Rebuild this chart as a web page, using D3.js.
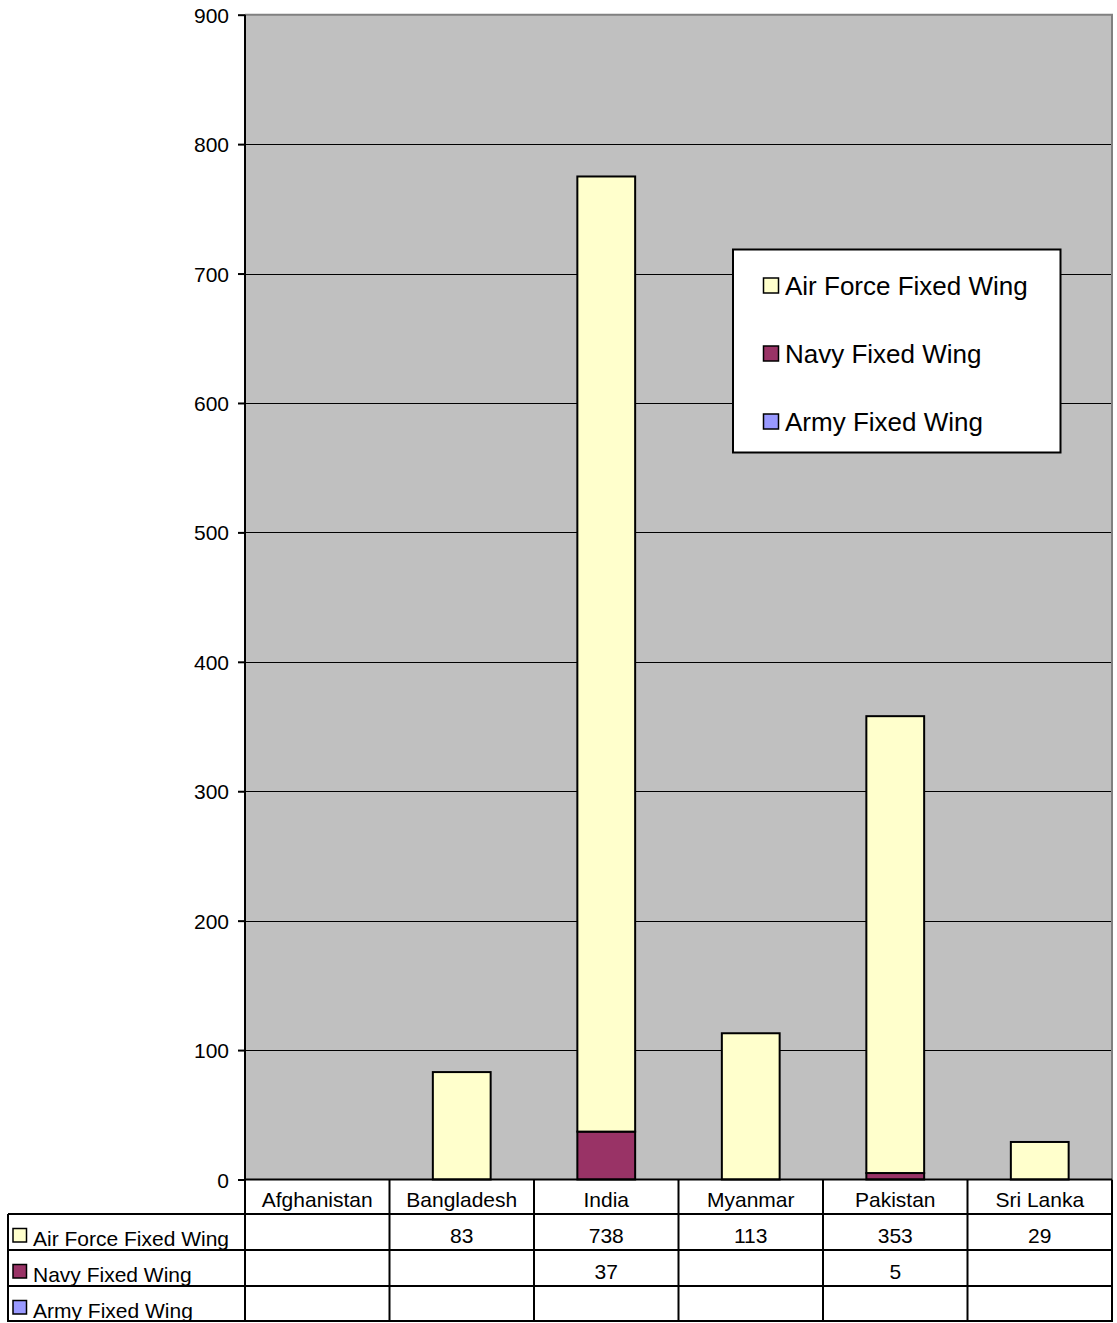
<!DOCTYPE html>
<html><head><meta charset="utf-8">
<script src="https://cdn.jsdelivr.net/npm/d3@7/dist/d3.min.js"></script>
<style>html,body{margin:0;padding:0;background:#fff;}svg{display:block;}</style>
</head><body>
<svg id="chart" width="1117" height="1323"></svg>
<script>
const categories = ["Afghanistan","Bangladesh","India","Myanmar","Pakistan","Sri Lanka"];
const seriesNames = ["Air Force Fixed Wing","Navy Fixed Wing","Army Fixed Wing"];
const airForce = [null, 83, 738, 113, 353, 29];
const navy = [null, null, 37, null, 5, null];
const army = [null, null, null, null, null, null];
const seriesColors = ["#FFFFCC","#993366","#9999FF"];
const yTicks = [0,100,200,300,400,500,600,700,800,900];

const svg = d3.select("#chart");
const font = "'Liberation Sans', Arial, sans-serif";
const L = 245, R = 1112, T = 14.7, B = 1179.5;
const x = d3.scaleBand().domain(categories).range([L, R]).paddingInner(0.6).paddingOuter(0.3);
const xCol = d3.scaleBand().domain(categories).range([L, R]).padding(0);
const y = d3.scaleLinear().domain([0, 900]).range([B, T]);

// plot background
svg.append("rect").attr("x", L).attr("y", T).attr("width", R - L).attr("height", B - T).attr("fill", "#C0C0C0");
// gridlines
svg.append("g").selectAll("line").data(yTicks.filter(d => d > 0 && d < 900)).join("line")
  .attr("x1", L).attr("x2", R).attr("y1", d => Math.round(y(d)) + 0.5).attr("y2", d => Math.round(y(d)) + 0.5)
  .attr("stroke", "#000").attr("stroke-width", 1);
// top and right border
svg.append("path").attr("d", `M${L},${T}H${R}V${B}`).attr("fill", "none").attr("stroke", "#808080").attr("stroke-width", 2);

// stacked bars
const rows = categories.map((c, i) => ({cat: c, army: army[i] || 0, navy: navy[i] || 0, air: airForce[i] || 0}));
const stack = d3.stack().keys(["army","navy","air"])(rows);
const colorByKey = {air: seriesColors[0], navy: seriesColors[1], army: seriesColors[2]};
svg.append("g").selectAll("g").data(stack).join("g")
  .attr("fill", d => colorByKey[d.key])
  .selectAll("rect").data(d => d.filter(p => p[1] - p[0] > 0)).join("rect")
  .attr("x", d => x(d.data.cat)).attr("width", x.bandwidth())
  .attr("y", d => y(d[1])).attr("height", d => y(d[0]) - y(d[1]))
  .attr("stroke", "#000").attr("stroke-width", 2);

// y axis
const yAxis = d3.axisLeft(y).tickValues(yTicks).tickSize(7).tickPadding(9);
const ya = svg.append("g").attr("transform", `translate(${L},0)`).call(yAxis);
ya.select(".domain").attr("stroke", "#000").attr("stroke-width", 2).attr("d", `M0,${T}V${B}`);
ya.selectAll(".tick line").attr("stroke", "#000").attr("stroke-width", 2);
ya.selectAll(".tick text").attr("font-family", font).attr("font-size", 21).attr("fill", "#000").attr("dy", "0.36em");

// data table
const rowH = 36;
const headTop = B, r1 = 1214, rowTops = [r1, r1 + rowH, r1 + 2 * rowH];
const tableBottom = r1 + 3 * rowH;
const tg = svg.append("g").attr("font-family", font).attr("font-size", 21).attr("fill", "#000");
const lineAttrs = sel => sel.attr("stroke", "#000").attr("stroke-width", 2);
// horizontal lines
lineAttrs(tg.append("line").attr("x1", L).attr("x2", R).attr("y1", headTop).attr("y2", headTop));
[r1, r1 + rowH, r1 + 2 * rowH, tableBottom - 1].forEach(yy =>
  lineAttrs(tg.append("line").attr("x1", 8).attr("x2", R).attr("y1", yy).attr("y2", yy)));
// vertical lines
lineAttrs(tg.append("line").attr("x1", 8).attr("x2", 8).attr("y1", r1).attr("y2", tableBottom));
categories.forEach(c => lineAttrs(tg.append("line").attr("x1", xCol(c)).attr("x2", xCol(c)).attr("y1", headTop).attr("y2", tableBottom)));
lineAttrs(tg.append("line").attr("x1", R).attr("x2", R).attr("y1", headTop).attr("y2", tableBottom));
// header
tg.selectAll("text.head").data(categories).join("text").attr("class", "head")
  .attr("x", d => xCol(d) + xCol.bandwidth() / 2).attr("y", 1207).attr("text-anchor", "middle").text(d => d);
// rows
const tableSeries = [airForce, navy, army];
tableSeries.forEach((vals, si) => {
  const top = rowTops[si];
  tg.append("rect").attr("x", 13).attr("y", top + 14.5).attr("width", 13.5).attr("height", 13.5)
    .attr("fill", seriesColors[si]).attr("stroke", "#000").attr("stroke-width", 1.5);
  tg.append("text").attr("x", 33).attr("y", top + 32).text(seriesNames[si]);
  tg.selectAll(null).data(categories.map((c, i) => ({c, v: vals[i]})).filter(d => d.v != null)).join("text")
    .attr("x", d => xCol(d.c) + xCol.bandwidth() / 2).attr("y", top + 29).attr("text-anchor", "middle").text(d => d.v);
});

// legend
const lg = svg.append("g").attr("font-family", font).attr("font-size", 26).attr("fill", "#000");
lg.append("rect").attr("x", 733).attr("y", 249.5).attr("width", 327.5).attr("height", 203)
  .attr("fill", "#fff").attr("stroke", "#000").attr("stroke-width", 2);
seriesNames.forEach((n, i) => {
  const cy = 286 + i * 68;
  lg.append("rect").attr("x", 763.5).attr("y", cy - 8).attr("width", 15).attr("height", 15)
    .attr("fill", seriesColors[i]).attr("stroke", "#000").attr("stroke-width", 1.5);
  lg.append("text").attr("x", 785).attr("y", cy + 9).text(n);
});
</script>
</body></html>
